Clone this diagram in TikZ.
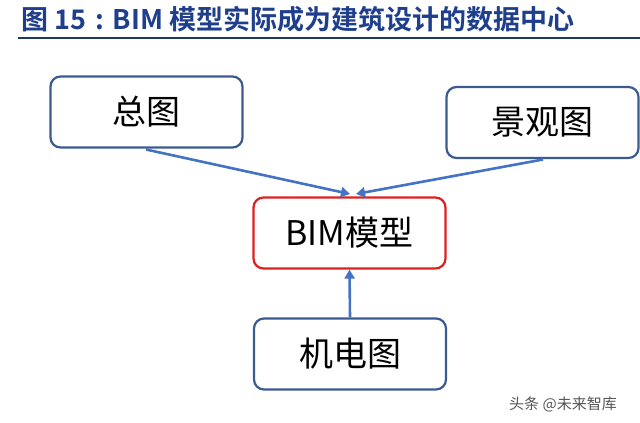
\documentclass[tikz,border=0pt]{standalone}
\usepackage{fontspec}
\setmainfont{Noto Sans CJK SC}
\newfontfamily\cjkb{Noto Sans CJK SC Bold}
\usetikzlibrary{arrows.meta}
\definecolor{titleblue}{HTML}{1F3F8C}
\definecolor{ruleblue}{HTML}{1F3864}
\definecolor{boxblue}{HTML}{3B5A92}
\definecolor{arrowblue}{HTML}{4472C4}
\definecolor{boxred}{HTML}{E02020}
\definecolor{wmgray}{HTML}{555555}
\tikzset{
  boxnode/.style={draw=boxblue, line width=2.2pt, rounded corners=10pt, minimum width=192pt, minimum height=71pt, font=\fontsize{34}{38}\selectfont, inner sep=0pt},
  redbox/.style={boxnode, draw=boxred},
  conn/.style={draw=arrowblue, line width=2.6pt, -{Triangle[width=10pt,length=9pt]}},
}
\begin{document}
\begin{tikzpicture}[x=1pt,y=-1pt]
\useasboundingbox (0,0) rectangle (640,423);
\node[anchor=west, text=titleblue, font=\cjkb\fontsize{27}{30}\selectfont, inner sep=0pt] (title) at (21,19) {图 15\hspace{9pt}:\hspace{9pt}BIM 模型实际成为建筑设计的数据中心};
\draw[ruleblue, line width=2.8pt] (18,38) -- (640,38);
\node[boxnode] (zt) at (146.5,112) {总图};
\node[boxnode] (jg) at (542.5,122.5) {景观图};
\node[redbox] (bim) at (349.5,233) {BIM模型};
\node[boxnode] (jd) at (350,354) {机电图};
\coordinate (tipL) at (350,194);
\coordinate (tipR) at (356,194);
\draw[conn] (146,149.5) -- (tipL);
\draw[conn] (543,159.5) -- (tipR);
\draw[conn] (jd.north) -- (bim.south);
\node[anchor=west, text=wmgray, font=\fontsize{15}{17}\selectfont, inner sep=0pt] (wm) at (509,404) {头条 @未来智库};
\end{tikzpicture}
\end{document}
